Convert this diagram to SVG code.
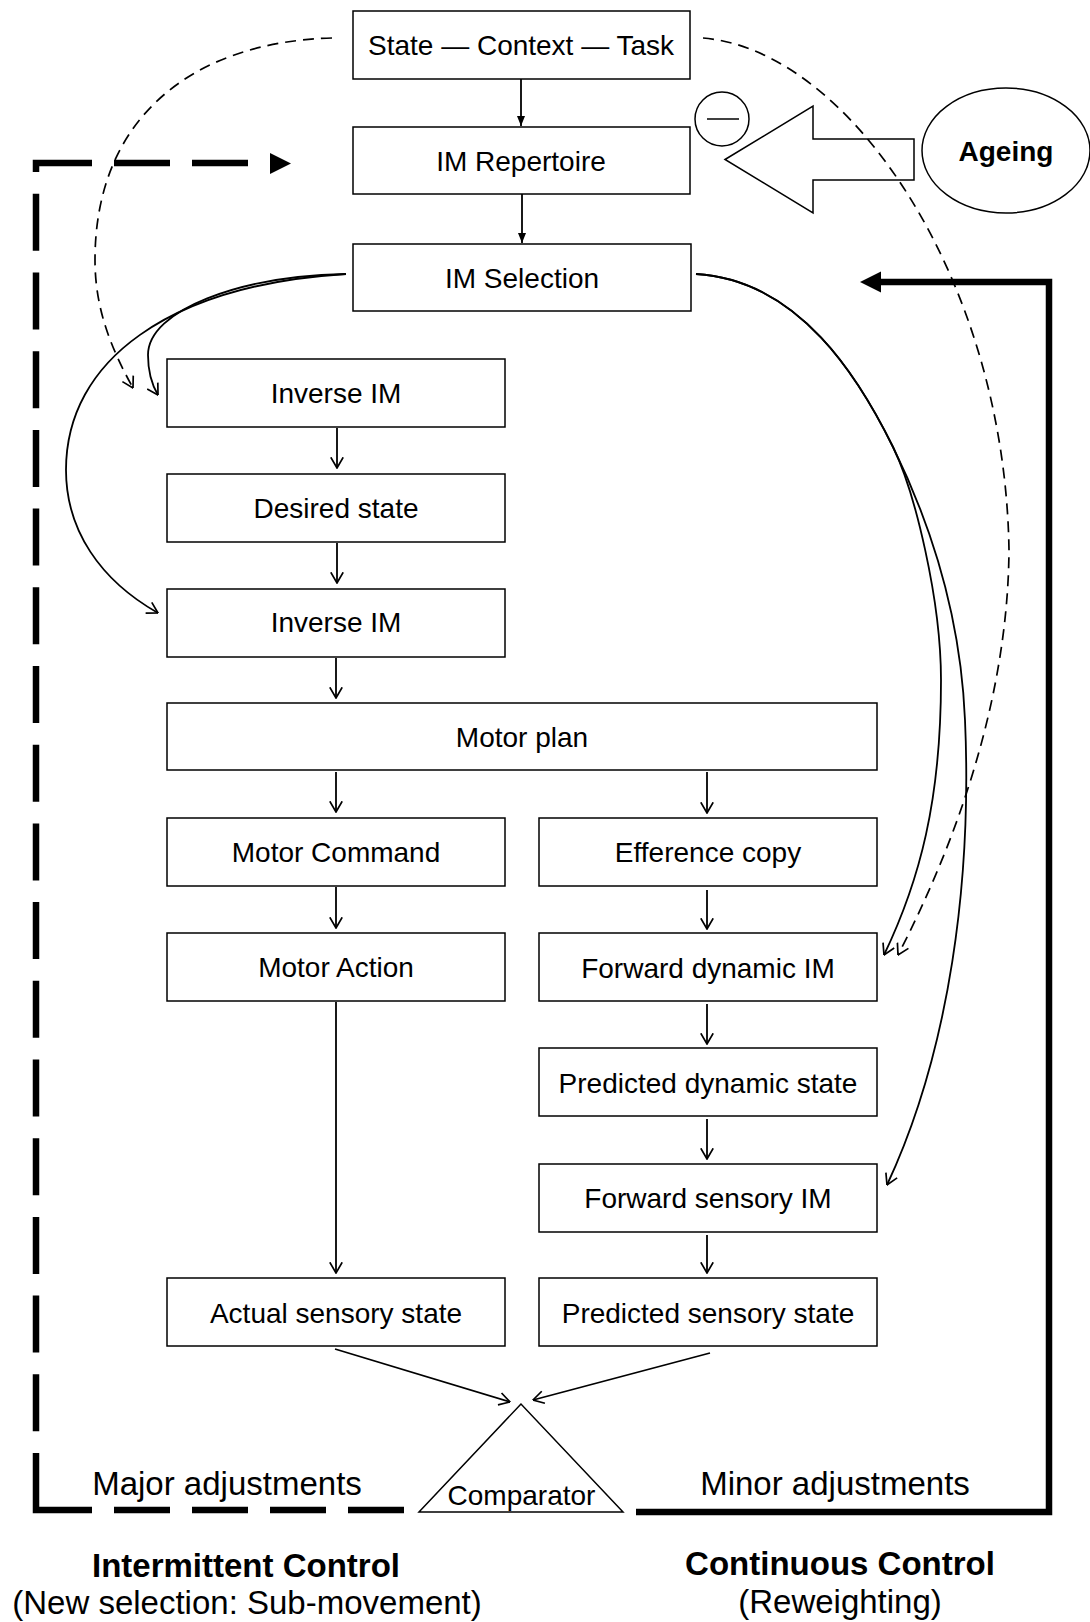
<svg xmlns="http://www.w3.org/2000/svg" width="1090" height="1622" viewBox="0 0 1090 1622">
<defs>
<style>
.box{fill:#fff;stroke:#000;stroke-width:1.5}
.t{font-family:"Liberation Sans",Arial,sans-serif;font-size:28px;text-anchor:middle;fill:#000}
.big{font-family:"Liberation Sans",Arial,sans-serif;font-size:33px;text-anchor:middle;fill:#000}
.b{font-weight:bold}
.ln{fill:none;stroke:#000;stroke-width:1.8}
.dsh{fill:none;stroke:#000;stroke-width:1.7;stroke-dasharray:11 7}
.thick{fill:none;stroke:#000;stroke-width:6.5}
</style>
<marker id="open" viewBox="0 0 12 14" refX="11.5" refY="7" markerWidth="12" markerHeight="14" markerUnits="userSpaceOnUse" orient="auto">
<path d="M0.8,0.8 L11.5,7 L0.8,13.2" fill="none" stroke="#000" stroke-width="1.7"/>
</marker>
<marker id="fill" viewBox="0 0 10 8" refX="10" refY="4" markerWidth="10" markerHeight="8" markerUnits="userSpaceOnUse" orient="auto">
<path d="M0,0 L10,4 L0,8 z" fill="#000"/>
</marker>
</defs>
<rect width="1090" height="1622" fill="#fff"/>

<g id="ageing">
<ellipse cx="1006" cy="150.5" rx="84" ry="62.5" fill="#fff" stroke="#000" stroke-width="1.5"/>
<text class="t b" x="1006" y="161">Ageing</text>
</g>
<g id="inhibit-arrow">
<polygon points="725,159.5 813,106 813,139 914,139 914,180 813,180 813,213" fill="#fff" stroke="#000" stroke-width="1.5"/>
<circle cx="722" cy="119" r="27" fill="#fff" stroke="#000" stroke-width="1.5"/>
<line x1="707" y1="119" x2="739" y2="119" stroke="#000" stroke-width="1.5"/>
</g>

<g id="state"><rect class="box" x="353" y="11" width="337" height="68"/><text class="t" x="521" y="55">State — Context — Task</text></g>
<g id="repertoire"><rect class="box" x="353" y="127" width="337" height="67"/><text class="t" x="521" y="171">IM Repertoire</text></g>
<g id="selection"><rect class="box" x="353" y="244" width="338" height="67"/><text class="t" x="522" y="288">IM Selection</text></g>
<g id="inverse1"><rect class="box" x="167" y="359" width="338" height="68"/><text class="t" x="336" y="403">Inverse IM</text></g>
<g id="desired"><rect class="box" x="167" y="474" width="338" height="68"/><text class="t" x="336" y="518">Desired state</text></g>
<g id="inverse2"><rect class="box" x="167" y="589" width="338" height="68"/><text class="t" x="336" y="632">Inverse IM</text></g>
<g id="motorplan"><rect class="box" x="167" y="703" width="710" height="67"/><text class="t" x="522" y="747">Motor plan</text></g>
<g id="motorcommand"><rect class="box" x="167" y="818" width="338" height="68"/><text class="t" x="336" y="862">Motor Command</text></g>
<g id="efference"><rect class="box" x="539" y="818" width="338" height="68"/><text class="t" x="708" y="862">Efference copy</text></g>
<g id="motoraction"><rect class="box" x="167" y="933" width="338" height="68"/><text class="t" x="336" y="977">Motor Action</text></g>
<g id="fwddynamic"><rect class="box" x="539" y="933" width="338" height="68"/><text class="t" x="708" y="978">Forward dynamic IM</text></g>
<g id="preddynamic"><rect class="box" x="539" y="1048" width="338" height="68"/><text class="t" x="708" y="1093">Predicted dynamic state</text></g>
<g id="fwdsensory"><rect class="box" x="539" y="1164" width="338" height="68"/><text class="t" x="708" y="1208">Forward sensory IM</text></g>
<g id="actualsensory"><rect class="box" x="167" y="1278" width="338" height="68"/><text class="t" x="336" y="1323">Actual sensory state</text></g>
<g id="predsensory"><rect class="box" x="539" y="1278" width="338" height="68"/><text class="t" x="708" y="1323">Predicted sensory state</text></g>
<g id="comparator">
<polygon points="521,1404 419,1512 623,1512" fill="#fff" stroke="#000" stroke-width="1.5"/>
<text class="t" x="521.5" y="1505">Comparator</text>
</g>

<g id="connectors">
<line class="ln" x1="521" y1="79" x2="521" y2="126" marker-end="url(#fill)"/>
<line class="ln" x1="522" y1="194" x2="522" y2="243" marker-end="url(#fill)"/>
<line class="ln" x1="337" y1="428" x2="337" y2="468" marker-end="url(#open)"/>
<line class="ln" x1="337" y1="543" x2="337" y2="583" marker-end="url(#open)"/>
<line class="ln" x1="336" y1="658" x2="336" y2="698" marker-end="url(#open)"/>
<line class="ln" x1="336" y1="772" x2="336" y2="812" marker-end="url(#open)"/>
<line class="ln" x1="707" y1="772" x2="707" y2="813" marker-end="url(#open)"/>
<line class="ln" x1="336" y1="887" x2="336" y2="928" marker-end="url(#open)"/>
<line class="ln" x1="707" y1="890" x2="707" y2="929" marker-end="url(#open)"/>
<line class="ln" x1="336" y1="1002" x2="336" y2="1273" marker-end="url(#open)"/>
<line class="ln" x1="707" y1="1004" x2="707" y2="1044" marker-end="url(#open)"/>
<line class="ln" x1="707" y1="1119" x2="707" y2="1159" marker-end="url(#open)"/>
<line class="ln" x1="707" y1="1235" x2="707" y2="1273" marker-end="url(#open)"/>
<line class="ln" x1="335" y1="1349" x2="510" y2="1402" marker-end="url(#open)"/>
<line class="ln" x1="710" y1="1353" x2="533" y2="1400" marker-end="url(#open)"/>

<path class="dsh" d="M332 38 C190 42 95 120 95 260 C95 310 112 350 133 388" marker-end="url(#open)"/>
<path class="dsh" d="M703 38 C850 50 1005 280 1009 550 C1008 700 955 845 898 955" marker-end="url(#open)"/>

<path class="ln" d="M346 274 C240 276 148 310 148 355 C148 372 152 385 158 395" marker-end="url(#open)"/>
<path class="ln" d="M346 274 C170 285 66 360 66 470 C66 530 100 580 158 613" marker-end="url(#open)"/>
<path class="ln" d="M696 274 C800 280 860 380 893 447 C915 492 941 600 941 680 C941 800 920 880 884 955" marker-end="url(#open)"/>
<path class="ln" d="M696 274 C800 280 860 380 893 447 C920 502 960 600 965 720 C972 880 950 1050 887 1185" marker-end="url(#open)"/>

<path d="M36 1453 V1510 H92" fill="none" stroke="#000" stroke-width="6.5" stroke-linejoin="miter"/>
<path d="M114 1510 H406" fill="none" stroke="#000" stroke-width="6.5" stroke-dasharray="56 22"/>
<path d="M36 1431.3 V193.8" fill="none" stroke="#000" stroke-width="6.5" stroke-dasharray="57 21.7"/>
<path d="M36 172 V163 H92" fill="none" stroke="#000" stroke-width="6.5" stroke-linejoin="miter"/>
<path d="M114 163 H170 M192 163 H248" fill="none" stroke="#000" stroke-width="6.5"/>
<polygon points="270,153 291,163.5 270,174" fill="#000"/>

<path class="thick" d="M636 1512 H1049 V282 H878" stroke-linejoin="miter"/>
<polygon points="860,282 881,271.5 881,292.5" fill="#000"/>
</g>

<g id="labels">
<text class="big" x="227" y="1495">Major adjustments</text>
<text class="big" x="835" y="1495">Minor adjustments</text>
<text class="big b" x="246" y="1577">Intermittent Control</text>
<text class="big" x="247" y="1614">(New selection: Sub-movement)</text>
<text class="big b" x="840" y="1575">Continuous Control</text>
<text class="big" x="840" y="1613">(Reweighting)</text>
</g>
</svg>
